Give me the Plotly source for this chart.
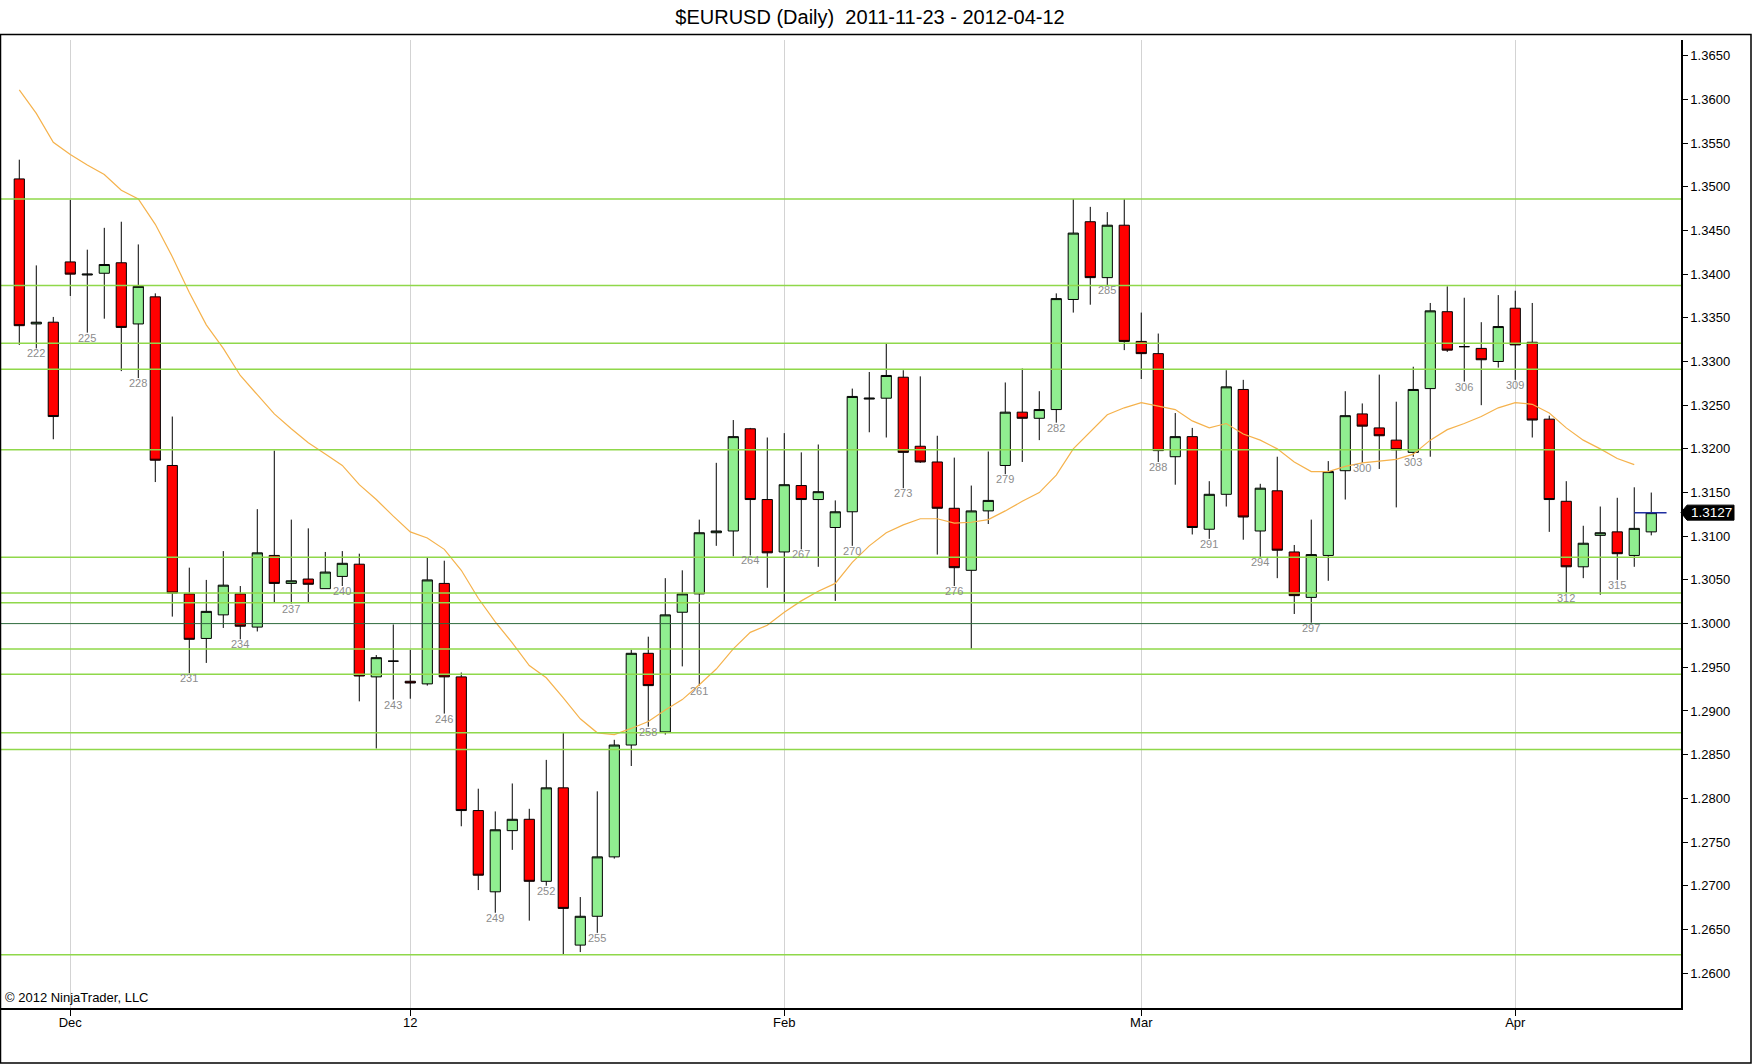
#! /usr/bin/env python
# -*- coding: utf-8 -*-

import plotly.graph_objects as go


# chart data
# ***********************************************

bars = list(range(221, 318))

opens = [
    1.3509, 1.3343, 1.3345, 1.3414, 1.3399, 1.3401, 1.3413, 1.3343, 1.3374, 1.3181,
    1.3034, 1.2983, 1.3010, 1.3034, 1.2996, 1.3078, 1.3046, 1.3051, 1.3040, 1.3054,
    1.3068, 1.2939, 1.2957, 1.2934, 1.2931, 1.3046, 1.2939, 1.2786, 1.2693, 1.2763,
    1.2776, 1.2705, 1.2812, 1.2632, 1.2665, 1.2733, 1.2861, 1.2966, 1.2876, 1.3013,
    1.3034, 1.3104, 1.3106, 1.3223, 1.3142, 1.3082, 1.3158, 1.3142, 1.3110, 1.3128,
    1.3257, 1.3258, 1.3282, 1.3203, 1.3185, 1.3132, 1.3061, 1.3129, 1.3181, 1.3242,
    1.3235, 1.3245, 1.3371, 1.3460, 1.3396, 1.3456, 1.3323, 1.3309, 1.3191, 1.3214,
    1.3108, 1.3148, 1.3268, 1.3106, 1.3152, 1.3082, 1.3030, 1.3078, 1.3175, 1.3240,
    1.3224, 1.3210, 1.3196, 1.3269, 1.3357, 1.3317, 1.3315, 1.3300, 1.3361, 1.3322,
    1.3234, 1.3140, 1.3065, 1.3101, 1.3105, 1.3078, 1.3105,
]

highs = [
    1.3531, 1.3410, 1.3351, 1.3485, 1.3428, 1.3453, 1.3460, 1.3434, 1.3378, 1.3237,
    1.3064, 1.3050, 1.3083, 1.3043, 1.3131, 1.3198, 1.3119, 1.3109, 1.3082, 1.3083,
    1.3080, 1.2964, 1.2999, 1.2970, 1.3076, 1.3072, 1.2944, 1.2811, 1.2785, 1.2817,
    1.2788, 1.2844, 1.2876, 1.2687, 1.2808, 1.2867, 1.2970, 1.2985, 1.3052, 1.3061,
    1.3119, 1.3184, 1.3233, 1.3224, 1.3213, 1.3218, 1.3196, 1.3205, 1.3141, 1.3269,
    1.3288, 1.3321, 1.3290, 1.3283, 1.3215, 1.3190, 1.3158, 1.3197, 1.3276, 1.3292,
    1.3266, 1.3378, 1.3486, 1.3477, 1.3471, 1.3486, 1.3356, 1.3332, 1.3241, 1.3224,
    1.3163, 1.3290, 1.3279, 1.3160, 1.3191, 1.3090, 1.3119, 1.3186, 1.3266, 1.3252,
    1.3285, 1.3254, 1.3294, 1.3367, 1.3386, 1.3373, 1.3345, 1.3376, 1.3381, 1.3367,
    1.3238, 1.3163, 1.3112, 1.3134, 1.3144, 1.3156, 1.3150,
]

lows = [
    1.3319, 1.3315, 1.3211, 1.3375, 1.3333, 1.3349, 1.3289, 1.3281, 1.3162, 1.3008,
    1.2943, 1.2955, 1.2995, 1.2982, 1.2991, 1.3024, 1.3023, 1.3024, 1.3040, 1.3043,
    1.2911, 1.2857, 1.2913, 1.2914, 1.2929, 1.2897, 1.2768, 1.2695, 1.2669, 1.2741,
    1.2660, 1.2700, 1.2621, 1.2624, 1.2646, 1.2731, 1.2837, 1.2882, 1.2873, 1.2951,
    1.2929, 1.3089, 1.3077, 1.3078, 1.3041, 1.3024, 1.3085, 1.3065, 1.3026, 1.3089,
    1.3219, 1.3213, 1.3155, 1.3184, 1.3079, 1.3043, 1.2971, 1.3114, 1.3171, 1.3185,
    1.3210, 1.3230, 1.3356, 1.3365, 1.3387, 1.3313, 1.3280, 1.3185, 1.3159, 1.3102,
    1.3097, 1.3134, 1.3096, 1.3076, 1.3052, 1.3011, 1.3001, 1.3049, 1.3142, 1.3184,
    1.3177, 1.3133, 1.3191, 1.3191, 1.3311, 1.3277, 1.3250, 1.3293, 1.3279, 1.3213,
    1.3105, 1.3035, 1.3052, 1.3033, 1.3050, 1.3065, 1.3101,
]

closes = [
    1.3341, 1.3345, 1.3237, 1.3400, 1.3400, 1.3411, 1.3339, 1.3386, 1.3187, 1.3035,
    1.2982, 1.3014, 1.3044, 1.2997, 1.3081, 1.3046, 1.3049, 1.3045, 1.3059, 1.3069,
    1.2940, 1.2961, 1.2957, 1.2932, 1.3050, 1.2939, 1.2786, 1.2712, 1.2764, 1.2776,
    1.2705, 1.2812, 1.2674, 1.2665, 1.2733, 1.2861, 1.2966, 1.2929, 1.3010, 1.3034,
    1.3104, 1.3106, 1.3214, 1.3142, 1.3081, 1.3159, 1.3142, 1.3151, 1.3128, 1.3260,
    1.3258, 1.3284, 1.3196, 1.3185, 1.3132, 1.3064, 1.3129, 1.3141, 1.3242, 1.3235,
    1.3245, 1.3372, 1.3447, 1.3396, 1.3456, 1.3323, 1.3309, 1.3198, 1.3214, 1.3110,
    1.3148, 1.3271, 1.3122, 1.3155, 1.3084, 1.3032, 1.3079, 1.3174, 1.3238, 1.3226,
    1.3215, 1.3199, 1.3268, 1.3358, 1.3313, 1.3317, 1.3302, 1.3340, 1.3319, 1.3233,
    1.3142, 1.3065, 1.3092, 1.3104, 1.3080, 1.3109, 1.3127,
]

# moving average, drawn up to the bar before the last one
ma_values = [
    1.3611, 1.3584, 1.3551, 1.3537, 1.3525, 1.3514, 1.3496, 1.3486, 1.3457, 1.3420,
    1.3379, 1.3342, 1.3315, 1.3284, 1.3262, 1.3240, 1.3223, 1.3207, 1.3194, 1.3181,
    1.3159, 1.3142, 1.3123, 1.3105, 1.3098, 1.3085, 1.3061, 1.3029, 1.3002, 1.2978,
    1.2952, 1.2938, 1.2915, 1.2891, 1.2875, 1.2873, 1.2880, 1.2888, 1.2901, 1.2913,
    1.2930, 1.2948, 1.2971, 1.2990, 1.2998, 1.3013, 1.3026, 1.3037, 1.3046, 1.3070,
    1.3089, 1.3104, 1.3113, 1.3120, 1.3120, 1.3115, 1.3116, 1.3119, 1.3129, 1.3140,
    1.3150, 1.3170, 1.3200, 1.3219, 1.3239, 1.3247, 1.3253, 1.3249, 1.3245, 1.3232,
    1.3224, 1.3229, 1.3217, 1.3210, 1.3200, 1.3185, 1.3174, 1.3174, 1.3180, 1.3184,
    1.3186, 1.3188, 1.3194, 1.3210, 1.3222, 1.3229, 1.3237, 1.3247, 1.3253, 1.3251,
    1.3241, 1.3224, 1.3210, 1.3200, 1.3189, 1.3182,
]

# horizontal support / resistance lines
green_levels = [1.3486, 1.3387, 1.3321, 1.3291, 1.3199, 1.3076, 1.3035, 1.3024,
                1.2971, 1.2942, 1.2875, 1.2856, 1.2621]
dark_levels = [1.3000]

# month separators on the time axis
month_ticks = [224, 244, 266, 287, 309]
month_labels = ['Dec', '12', 'Feb', 'Mar', 'Apr']

TITLE = '$EURUSD (Daily)  2011-11-23 - 2012-04-12'
COPYRIGHT = '\u00a9 2012 NinjaTrader, LLC'


# some constants
# **************

WIDTH, HEIGHT = 1752, 1064
MARGIN = dict(l=0, r=71, t=40, b=56)
PLOT_W = WIDTH - MARGIN['l'] - MARGIN['r']
PLOT_H = HEIGHT - MARGIN['t'] - MARGIN['b']
Y_RANGE = [1.2560, 1.3668]
FONT = 'Liberation Sans, Arial, sans-serif'
LABEL_EVERY = 3


def px_to_paper_x(px):
    """Convert a pixel column of the page to paper coordinates."""
    return (px - MARGIN['l']) / PLOT_W


def px_to_paper_y(px):
    """Convert a pixel row (from the top) to paper coordinates."""
    return (HEIGHT - MARGIN['b'] - px) / PLOT_H


def build_figure():
    """Build the candlestick chart."""
    fig = go.Figure()

    # candles
    fig.add_trace(go.Candlestick(
        x=bars, open=opens, high=highs, low=lows, close=closes,
        increasing=dict(fillcolor='#90EE90', line=dict(color='black', width=1)),
        decreasing=dict(fillcolor='#FF0000', line=dict(color='black', width=1)),
        whiskerwidth=0,
        hoverinfo='skip',
    ))

    # moving average
    fig.add_trace(go.Scatter(
        x=bars[:len(ma_values)], y=ma_values,
        mode='lines', line=dict(color='#F5B24C', width=1.2),
        hoverinfo='skip',
    ))

    shapes = []
    for level in green_levels:
        shapes.append(dict(type='line', xref='paper', yref='y', x0=0, x1=1,
                           y0=level, y1=level, layer='above',
                           line=dict(color='#8FD84A', width=1.5)))
    for level in dark_levels:
        shapes.append(dict(type='line', xref='paper', yref='y', x0=0, x1=1,
                           y0=level, y1=level, layer='above',
                           line=dict(color='#2E6B3C', width=1)))

    # last price marker
    last = closes[-1]
    shapes.append(dict(type='line', xref='x', yref='y',
                       x0=bars[-2], x1=bars[-1] + 0.9, y0=last, y1=last,
                       line=dict(color='#1F2FA0', width=1.5)))
    half = 7.5 * (Y_RANGE[1] - Y_RANGE[0]) / PLOT_H
    x_tip, x_box, x_end = 1.0, px_to_paper_x(1687), px_to_paper_x(1734)
    shapes.append(dict(
        type='path', xref='paper', yref='y', fillcolor='black',
        line=dict(color='black', width=1),
        path=(f'M {x_tip} {last} L {x_box} {last + half} L {x_end} {last + half} '
              f'L {x_end} {last - half} L {x_box} {last - half} Z'),
    ))

    # outer frame
    shapes.append(dict(type='rect', xref='paper', yref='paper',
                       x0=px_to_paper_x(0.5), x1=px_to_paper_x(1751),
                       y0=px_to_paper_y(1063), y1=px_to_paper_y(34.5),
                       line=dict(color='black', width=1.5)))

    annotations = []
    # bar numbers below every third bar
    for n, low in zip(bars, lows):
        if n % LABEL_EVERY == 0:
            annotations.append(dict(x=n, y=low, xref='x', yref='y', text=str(n),
                                    showarrow=False, xanchor='center',
                                    yanchor='middle', yshift=-5,
                                    font=dict(family=FONT, size=11, color='#8C8C8C')))
    annotations.append(dict(x=px_to_paper_x(1711), y=last, xref='paper', yref='y',
                            text=f'{last:.4f}', showarrow=False,
                            xanchor='center', yanchor='middle',
                            font=dict(family=FONT, size=13.5, color='white')))
    annotations.append(dict(x=px_to_paper_x(3), y=0, xref='paper', yref='paper',
                            text=COPYRIGHT, showarrow=False, xanchor='left',
                            yanchor='bottom', yshift=1,
                            font=dict(family=FONT, size=13, color='black')))

    fig.update_layout(
        width=WIDTH, height=HEIGHT, margin=MARGIN,
        paper_bgcolor='white', plot_bgcolor='white',
        showlegend=False, boxgap=0.4, boxgroupgap=0,
        font=dict(family=FONT, size=13, color='black'),
        title=dict(text=TITLE, x=870 / WIDTH, xanchor='center',
                   y=1 - 17 / HEIGHT, yanchor='middle',
                   font=dict(family=FONT, size=20, color='black')),
        shapes=shapes, annotations=annotations,
        xaxis=dict(range=[219.865, 318.75], tickvals=month_ticks, ticktext=month_labels,
                   showgrid=True, gridcolor='#D3D3D3', gridwidth=1,
                   ticks='outside', ticklen=6, tickcolor='black',
                   ticklabelstandoff=-4,
                   showline=True, linecolor='black', linewidth=1.5,
                   zeroline=False, rangeslider=dict(visible=False),
                   tickfont=dict(family=FONT, size=13)),
        yaxis=dict(range=Y_RANGE, side='right', dtick=0.005, tick0=1.26,
                   tickformat='.4f', showgrid=False, zeroline=False,
                   ticks='outside', ticklen=5, tickcolor='black',
                   showline=True, linecolor='black', linewidth=1.5,
                   tickfont=dict(family=FONT, size=13)),
    )
    return fig


def main():
    """The driving function."""
    fig = build_figure()
    # drop the default page margin so the chart sits in the corner
    fig.write_html('out.html', config={'displayModeBar': False},
                   post_script="document.body.style.margin = '0';")


if __name__ == '__main__':
    main()
